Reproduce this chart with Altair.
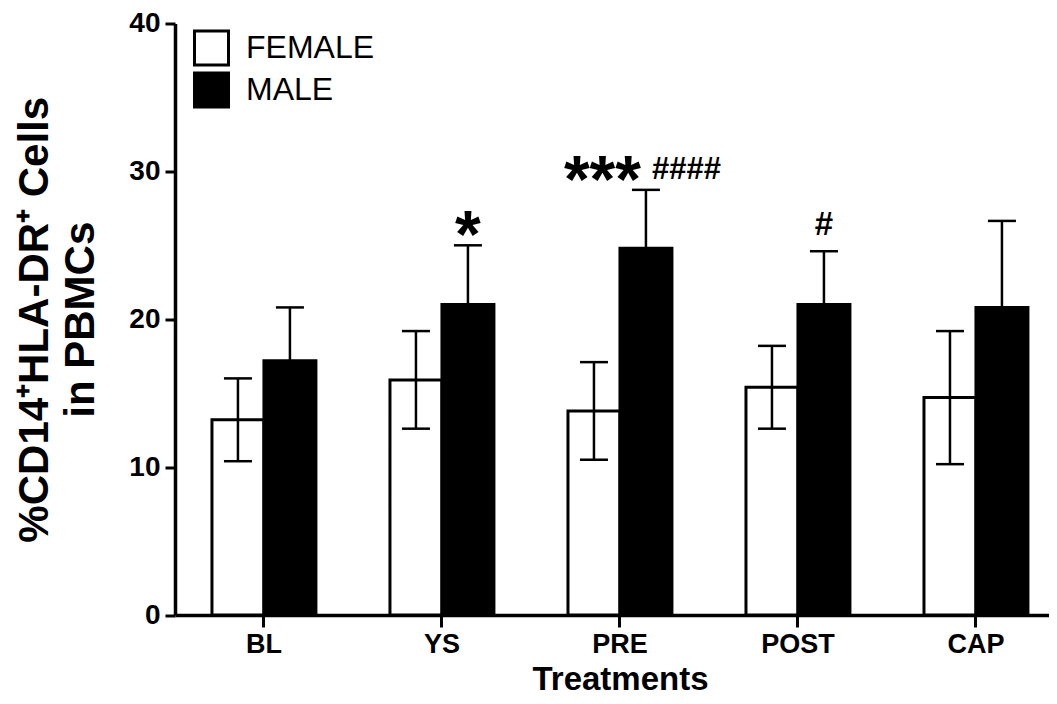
import altair as alt
import pandas as pd

# ---- data ----
treatments = ["BL", "YS", "PRE", "POST", "CAP"]
groups = ["FEMALE", "MALE"]
female_mean = [13.2, 15.9, 13.8, 15.4, 14.7]
female_sem = [2.8, 3.3, 3.3, 2.8, 4.5]
male_mean = [17.2, 21.0, 24.8, 21.0, 20.8]
male_sem = [3.6, 4.0, 3.95, 3.6, 5.85]
y_ticks = [0, 10, 20, 30, 40]
y_title = ["%CD14\u207aHLA-DR\u207a Cells", "in PBMCs"]
x_title = "Treatments"

rows = []
for i, t in enumerate(treatments):
    for g, m, s in (("FEMALE", female_mean[i], female_sem[i]), ("MALE", male_mean[i], male_sem[i])):
        rows.append({"treatment": t, "group": g, "mean": m, "lo": m - s, "hi": m + s})
df = pd.DataFrame(rows)

FONT = "Liberation Sans"

x_axis = alt.Axis(
    title=x_title, labelAngle=0, labelFontSize=27, labelFontWeight="bold", labelPadding=4,
    tickSize=12, titleFontSize=33, titleFontWeight="bold", titleX=445, titleY=74,
    titleBaseline="alphabetic", titleAnchor="middle", titleAlign="center",
)
y_axis = alt.Axis(
    values=y_ticks, title=y_title, labelFontSize=28, labelFontWeight="bold",
    labelPadding=5, tickSize=10, titleFontSize=42, titleFontWeight="bold",
    titleLineHeight=46, titleX=-128, titleY=295.75, titleBaseline="alphabetic",
    titleAngle=270, titleAlign="center",
)
x_scale = alt.Scale(domain=treatments, paddingInner=0.416, paddingOuter=0.163, align=0.637)
xo_scale = alt.Scale(domain=groups, paddingInner=0, paddingOuter=0)
y_scale = alt.Scale(domain=[0, 40], nice=False, zero=True)


def X():
    return alt.X("treatment:N", sort=treatments, scale=x_scale, axis=x_axis)


def XO():
    return alt.XOffset("group:N", sort=groups, scale=xo_scale)


def Y(field):
    return alt.Y(field, type="quantitative", scale=y_scale, axis=y_axis)


bars = alt.Chart(df).mark_bar(stroke="black", strokeWidth=3, opacity=1).encode(
    x=X(),
    xOffset=XO(),
    y=Y("mean"),
    color=alt.Color(
        "group:N",
        scale=alt.Scale(domain=groups, range=["white", "black"]),
        legend=alt.Legend(
            title=None, orient="none", legendX=18, legendY=6, symbolType="square",
            symbolSize=1156, symbolStrokeColor="black", symbolStrokeWidth=3,
            symbolOpacity=1, labelFontSize=32, labelFont=FONT, labelColor="black",
            rowPadding=-8, labelOffset=16, padding=0,
        ),
    ),
)

whisk = alt.Chart(df).mark_rule(color="black", strokeWidth=2.5).encode(
    x=X(), xOffset=XO(), y=Y("lo"), y2="hi:Q",
)
cap_hi = alt.Chart(df).mark_tick(color="black", thickness=2.5, size=28, opacity=1).encode(
    x=X(), xOffset=XO(), y=Y("hi"),
)
cap_lo = alt.Chart(df).mark_tick(color="black", thickness=2.5, size=28, opacity=1).encode(
    x=X(), xOffset=XO(), y=Y("lo"),
)


def ann(treat, text, size, dx, dy, align):
    return alt.Chart(df).transform_filter(
        (alt.datum.treatment == treat) & (alt.datum.group == "MALE")
    ).mark_text(
        text=text, font=FONT, fontSize=size, fontWeight="bold", color="black",
        dx=dx, dy=dy, align=align, baseline="alphabetic",
    ).encode(x=X(), xOffset=XO(), y=Y("hi"))


annotations = [
    ann("YS", "*", 66, 0, 12, "center"),
    ann("PRE", "***", 66, -5, 12, "right"),
    ann("PRE", "####", 31, 6, -11, "left"),
    ann("POST", "#", 33, 0, -16, "center"),
]

chart = alt.layer(bars, whisk, cap_hi, cap_lo, *annotations).properties(
    width=874, height=591.5,
    background="white",
    autosize=alt.AutoSizeParams(type="none"),
    padding={"left": 167, "top": 15.5, "right": 0, "bottom": 81},
).configure_view(strokeWidth=0).configure_axis(
    grid=False, domainColor="black", domainWidth=3.5, tickColor="black", tickWidth=3,
    labelColor="black", titleColor="black", labelFont=FONT, titleFont=FONT,
)

chart.save("out.html", embed_options={"renderer": "svg", "actions": False})
